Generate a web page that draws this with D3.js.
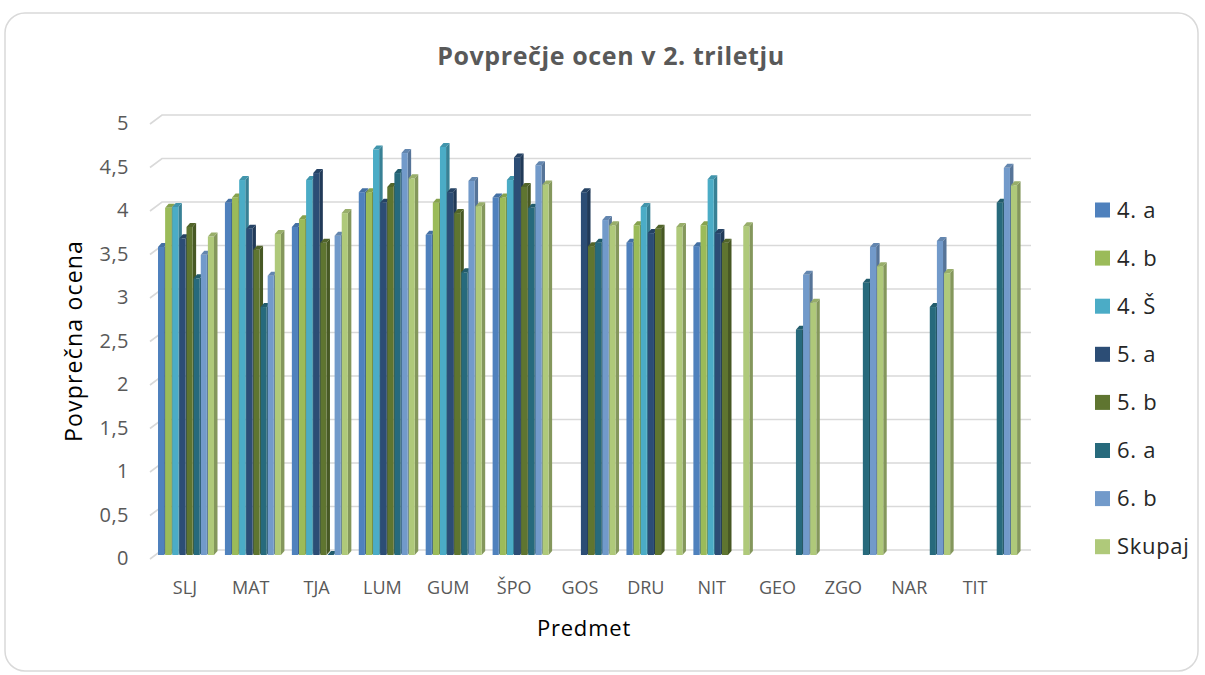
<!DOCTYPE html>
<html><head><meta charset="utf-8">
<script src="https://cdn.jsdelivr.net/npm/d3@7"></script>
<style>body{margin:0;background:#fff;} svg{display:block;}</style>
</head><body>
<script>
const categories = ["SLJ","MAT","TJA","LUM","GUM","ŠPO","GOS","DRU","NIT","GEO","ZGO","NAR","TIT"];
const seriesNames = ["4. a","4. b","4. Š","5. a","5. b","6. a","6. b","Skupaj"];
const s4a    = [3.54,4.05,3.77,4.17,3.68,4.11,null,3.59,3.55,null,null,null,null];
const s4b    = [3.99,4.11,3.86,4.17,4.05,4.11,null,3.79,3.79,null,null,null,null];
const s4S    = [4.00,4.31,4.31,4.66,4.69,4.31,null,4.00,4.32,null,null,null,null];
const s5a    = [3.64,3.75,4.39,4.05,4.17,4.57,4.17,3.70,3.70,null,null,null,null];
const s5b    = [3.77,3.51,3.59,4.23,3.93,4.23,3.55,3.75,3.59,null,null,null,null];
const s6a    = [3.18,2.85,0,4.39,3.25,3.99,3.59,null,null,2.59,3.13,2.85,4.05];
const s6b    = [3.45,3.21,3.67,4.62,4.30,4.48,3.85,null,null,3.22,3.54,3.61,4.45];
const sSkup  = [3.66,3.69,3.93,4.33,4.01,4.26,3.79,3.77,3.78,2.90,3.32,3.24,4.25];
const seriesValues = [s4a,s4b,s4S,s5a,s5b,s6a,s6b,sSkup];
const colors = ["#4F81BD","#9BBB59","#4BACC6","#2C4D75","#5F7530","#276A7C","#729ACA","#AFC97A"];
const yTicks = [0,0.5,1,1.5,2,2.5,3,3.5,4,4.5,5];
const fmt = v => String(v).replace(".", ",");

const W = 1205, H = 675;
const svg = d3.select("body").append("svg").attr("width", W).attr("height", H);
const FONT = "'Open Sans', sans-serif";

// chart border
svg.append("rect").attr("x", 5).attr("y", 13).attr("width", 1193).attr("height", 658)
  .attr("rx", 20).attr("fill", "#fff").attr("stroke", "#d9d9d9").attr("stroke-width", 1.5);

// title
svg.append("text").attr("x", 611).attr("y", 65).attr("text-anchor", "middle")
  .attr("font-family", FONT).attr("font-weight", "bold").attr("font-size", 25)
  .attr("letter-spacing", 0.6).attr("fill", "#595959").text("Povprečje ocen v 2. triletju");

// scales
const yBack = d3.scaleLinear().domain([0,5]).range([550,115]);
const yBar  = d3.scaleLinear().domain([0,5]).range([555,120]);
const depthX = 12, depthY = 9;
const xBack = d3.scaleBand().domain(categories).range([154, 1024]);
const xFront = d3.scaleBand().domain(categories).range([152, 1008]);
const xSer = d3.scaleBand().domain(seriesNames).range([4, 61]);

// gridlines
const grid = svg.append("g");
yTicks.forEach(t => {
  const yb = yBack(t);
  grid.append("path")
    .attr("d", `M${162-depthX},${yb+depthY} L162,${yb} L1031,${yb}`)
    .attr("fill", "none").attr("stroke", "#d9d9d9").attr("stroke-width", 1.6);
});

// y axis labels
svg.append("g").selectAll("text").data(yTicks).join("text")
  .attr("x", 129).attr("y", d => yBack(d) + depthY - 1).attr("dy", "0.35em")
  .attr("text-anchor", "end").attr("font-family", FONT).attr("font-size", 20)
  .attr("letter-spacing", 0.5).attr("fill", "#595959").text(d => fmt(d));

// x axis labels
svg.append("g").selectAll("text").data(categories).join("text")
  .attr("x", d => xFront(d) + xFront.bandwidth()/2).attr("y", 588).attr("dy", "0.35em")
  .attr("text-anchor", "middle").attr("font-family", FONT).attr("font-size", 18)
  .attr("fill", "#595959").text(d => d);

// axis titles
svg.append("text").attr("x", 584).attr("y", 628).attr("dy", "0.35em").attr("text-anchor", "middle")
  .attr("font-family", FONT).attr("font-size", 22).attr("letter-spacing", 0.8)
  .attr("fill", "#000").text("Predmet");
svg.append("text").attr("transform", "translate(74,341) rotate(-90)").attr("dy", "0.35em")
  .attr("text-anchor", "middle").attr("font-family", FONT).attr("font-size", 23)
  .attr("letter-spacing", 1.2).attr("fill", "#000").text("Povprečna ocena");

// bars (pseudo-3D)
const bw = xSer.bandwidth() - 1, dx = 3.5, dy = 4;
const barsG = svg.append("g");
categories.forEach((cat, ci) => {
  seriesNames.forEach((s, si) => {
    const v = seriesValues[si][ci];
    if (v === null) return;
    const x = xBack(cat) + xSer(s);
    const y0 = yBar(0), y1 = yBar(v);
    const c = d3.color(colors[si]);
    const g = barsG.append("g");
    g.append("path").attr("d", `M${x+bw},${y1} L${x+bw+dx},${y1-dy} L${x+bw+dx},${y0-dy} L${x+bw},${y0} Z`)
      .attr("fill", c.darker(0.8).toString());
    g.append("rect").attr("x", x).attr("y", y1).attr("width", bw).attr("height", y0 - y1)
      .attr("fill", c.toString());
    g.append("path").attr("d", `M${x},${y1} L${x+bw},${y1} L${x+bw+dx},${y1-dy} L${x+dx},${y1-dy} Z`)
      .attr("fill", c.darker(0.4).toString());
  });
});

// legend
const leg = svg.append("g");
seriesNames.forEach((s, i) => {
  const y = 210 + i * 48.1;
  leg.append("rect").attr("x", 1095).attr("y", y - 7.5).attr("width", 15).attr("height", 15)
    .attr("fill", colors[i]);
  leg.append("text").attr("x", 1117).attr("y", y).attr("dy", "0.35em")
    .attr("font-family", FONT).attr("font-size", 22).attr("letter-spacing", 0.7)
    .attr("fill", "#262626").text(s);
});
</script>
</body></html>
